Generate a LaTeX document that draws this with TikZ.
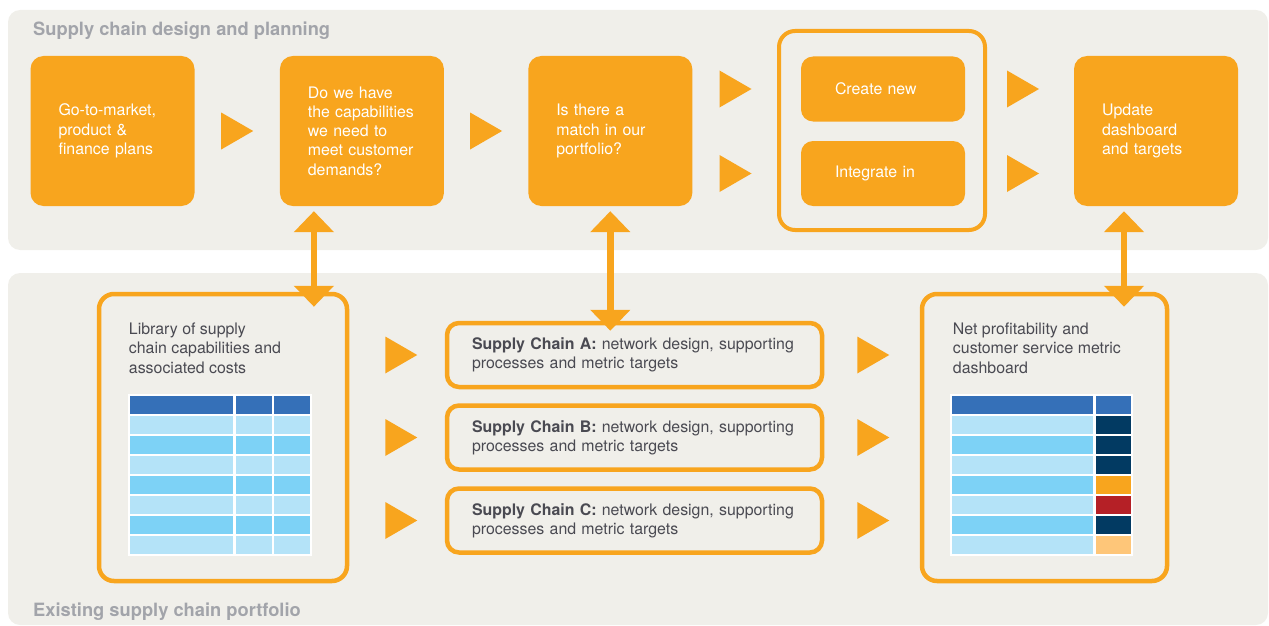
\documentclass[tikz,border=0pt]{standalone}
\usepackage{fontspec}
\setmainfont{TeX Gyre Heros}
\usetikzlibrary{positioning,calc,arrows.meta}

\definecolor{scorange}{HTML}{F8A51E}
\definecolor{panelgray}{HTML}{F0EFEA}
\definecolor{titlegray}{HTML}{A2A4AA}
\definecolor{textgray}{HTML}{4A4A52}
\definecolor{hdrblue}{HTML}{3570B8}
\definecolor{rowlight}{HTML}{B4E3F8}
\definecolor{rowmid}{HTML}{7DD2F6}
\definecolor{navy}{HTML}{023A62}
\definecolor{alertred}{HTML}{B52026}
\definecolor{paleorange}{HTML}{FEC679}

\newcommand\bodyfont{\fontsize{15.9}{19.3}\selectfont}
\newcommand\panelfont{\fontsize{18.3}{21}\selectfont\bfseries}
\newcommand\flowtri[1]{\fill[scorange] #1 ++(-16,-18.5) -- ++(32,18.5) -- ++(-32,18.5) -- cycle;}

\tikzset{
  stepbox/.style={fill=scorange, rounded corners=13pt, text=white, align=left,
    text width=108pt, inner xsep=28pt, inner ysep=0pt, minimum height=150pt, font=\bodyfont},
  optionbox/.style={fill=scorange, rounded corners=12pt, text=white, align=left,
    text width=96pt, inner xsep=34pt, minimum height=65pt, font=\bodyfont},
  framebox/.style={draw=scorange, line width=4.5pt, fill=panelgray, rounded corners=15pt},
  chainbox/.style={framebox, rounded corners=12pt, text=textgray, align=left,
    text width=325pt, inner xsep=25pt, minimum height=64pt, font=\bodyfont},
  boxlabel/.style={text=textgray, align=left, inner sep=0pt, font=\bodyfont},
  paneltitle/.style={text=titlegray, inner sep=0pt, font=\panelfont},
  twoway/.style={draw=scorange, line width=6.5pt,
    {Triangle[length=21pt,width=39pt]}-{Triangle[length=21pt,width=39pt]}},
}

\begin{document}
\begin{tikzpicture}[x=1pt,y=-1pt]
    \useasboundingbox (0,0) rectangle (1269,626);
    %% panels
    \fill[panelgray, rounded corners=12pt] (8,10) rectangle (1268,250);
    \fill[panelgray, rounded corners=12pt] (8,273) rectangle (1268,625);
    \node[paneltitle, anchor=base west] (designtitle) at (33,36) {Supply chain design and planning};
    \node[paneltitle, anchor=base west] (portfoliotitle) at (33,616) {Existing supply chain portfolio};

    %% planning steps
    \node[stepbox] (go) at (112.5,131) {Go-to-market,\\product \&\\finance plans};
    \node[stepbox, right=85pt of go] (cap) {Do we have\\the capabilities\\we need to\\meet customer\\demands?};
    \node[stepbox, right=84pt of cap] (match) {Is there a\\match in our\\portfolio?};
    \node[draw=scorange, line width=4pt, rounded corners=16pt, minimum width=206pt, minimum height=199pt] (group) at (882,130.5) {};
    \node[optionbox] (create) at (883,89) {Create new};
    \node[optionbox] (integ) at (883,173.5) {Integrate in};
    \node[stepbox] (upd) at (1156,131) {Update\\dashboard\\and targets};

    \flowtri{($(go.east)!0.5!(cap.west)$)}
    \flowtri{($(cap.east)!0.5!(match.west)$)}
    \flowtri{($(match.east |- create)+(43,0)$)}
    \flowtri{($(match.east |- integ)+(43,0)$)}
    \flowtri{($(group.east |- create)+(36,0)$)}
    \flowtri{($(group.east |- integ)+(36,0)$)}

    %% portfolio
    \node[framebox, minimum width=248pt, minimum height=287pt] (lib) at (223,437.5) {};
    \node[framebox, minimum width=245pt, minimum height=287pt] (dash) at (1044.5,437.5) {};
    \node[chainbox] (sca) at (634.5,355) {\textbf{Supply Chain A:} network design, supporting\\processes and metric targets};
    \node[chainbox] (scb) at (634.5,437.5) {\textbf{Supply Chain B:} network design, supporting\\processes and metric targets};
    \node[chainbox] (scc) at (634.5,520.5) {\textbf{Supply Chain C:} network design, supporting\\processes and metric targets};
    \node[boxlabel, anchor=north west] (libtext) at ($(lib.north west)+(32,31)$) {Library of supply\\chain capabilities and\\associated costs};
    \node[boxlabel, anchor=north west] (dashtext) at ($(dash.north west)+(33,31)$) {Net profitability and\\customer service metric\\dashboard};

    \foreach \sc in {sca,scb,scc}{
        \flowtri{($(lib.east |- \sc)+(52,0)$)}
        \flowtri{($(\sc.east)+(49,0)$)}
    }

    %% tables
    \fill[white] (128,394) rectangle (312,556);
    \foreach \c [count=\r from 0] in {hdrblue,rowlight,rowmid,rowlight,rowmid,rowlight,rowmid,rowlight}{
        \fill[\c] (130,{396+20*\r}) rectangle (233,{414+20*\r});
        \fill[\c] (236,{396+20*\r}) rectangle (272,{414+20*\r});
        \fill[\c] (274,{396+20*\r}) rectangle (310,{414+20*\r});
    }
    \fill[white] (950,394) rectangle (1133,556);
    \foreach \c/\k [count=\r from 0] in {hdrblue/hdrblue,rowlight/navy,rowmid/navy,rowlight/navy,
        rowmid/scorange,rowlight/alertred,rowmid/navy,rowlight/paleorange}{
        \fill[\c] (952,{396+20*\r}) rectangle (1093,{414+20*\r});
        \fill[\k] (1096,{396+20*\r}) rectangle (1131,{414+20*\r});
    }

    %% links between the panels
    \draw[twoway] ($(cap.south)+(-48,5)$) -- ($(cap.south |- lib.north)+(-48,15)$);
    \draw[twoway] ($(match.south)+(0,5)$) -- ($(match.south |- sca.north)+(0,10)$);
    \draw[twoway] ($(upd.south)+(-32,5)$) -- ($(upd.south |- dash.north)+(-32,15)$);
\end{tikzpicture}
\end{document}
